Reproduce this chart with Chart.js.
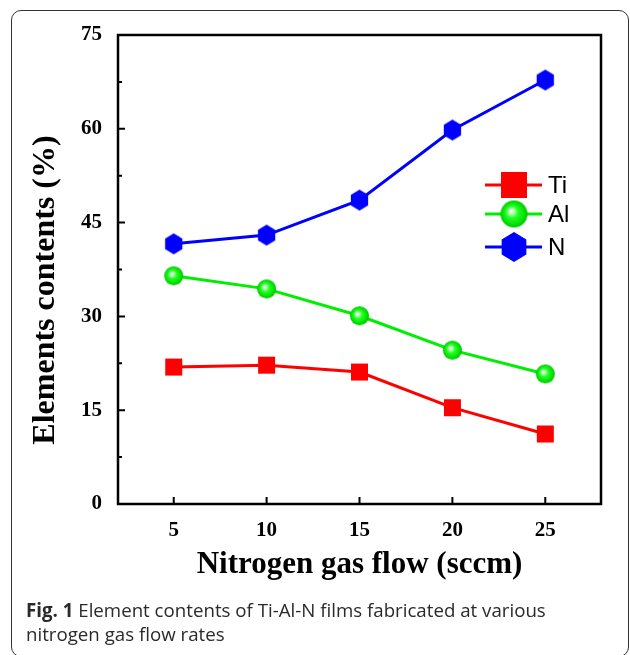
<!DOCTYPE html>
<html>
<head>
<meta charset="utf-8">
<script src="https://cdn.jsdelivr.net/npm/chart.js@4"></script>
<style>
  html, body { margin: 0; padding: 0; background: #fff; width: 630px; height: 655px; overflow: hidden; }
  #wrap { position: relative; width: 630px; height: 655px; overflow: hidden; }
  #chart { position: absolute; left: 0; top: 0; }
  #frame { position: absolute; left: 11px; top: 10px; width: 618px; height: 647px;
           border: 1.5px solid #333; border-radius: 10px; box-sizing: border-box; pointer-events: none; }
  #caption { position: absolute; left: 26px; top: 598px; font-family: "Open Sans", sans-serif;
             font-size: 18.7px; line-height: 24px; color: #2a2a2a; white-space: nowrap; }
  #caption b { font-weight: 700; }
</style>
</head>
<body>
<div id="wrap">
  <canvas id="chart" width="630" height="590"></canvas>
  <div id="frame"></div>
  <div id="caption"><b>Fig. 1</b> Element contents of Ti-Al-N films fabricated at various<br>nitrogen gas flow rates</div>
</div>
<script>
// valores
const flows = [5, 10, 15, 20, 25];
const tiValues = [21.9, 22.2, 21.1, 15.4, 11.2];
const alValues = [36.5, 34.4, 30.1, 24.6, 20.8];
const nValues = [41.6, 43.0, 48.6, 59.8, 67.8];
const seriesNames = ['Ti', 'Al', 'N'];
const xTickValues = [5, 10, 15, 20, 25];
const yTickValues = [0, 15, 30, 45, 60, 75];
const yMinorValues = [7.5, 22.5, 37.5, 52.5, 67.5];

const RED = '#ff0000';
const GREEN = '#00ee00';
const BLUE = '#0000ff';
const serif = '"Liberation Serif", "Times New Roman", serif';

// Marcadores dibujados en un canvas aparte
const makeMarker = (kind, size) => {
    const c = document.createElement('canvas');
    c.width = size + 2;
    c.height = size + 2;
    const ctx = c.getContext('2d');
    const m = (size + 2) / 2;
    const r = size / 2;
    if (kind === 'square') {
        ctx.fillStyle = RED;
        ctx.fillRect(m - r, m - r, size, size);
    } else if (kind === 'sphere') {
        const g = ctx.createRadialGradient(m - r * 0.25, m - r * 0.25, 0, m, m, r);
        g.addColorStop(0, '#ffffff');
        g.addColorStop(0.2, '#b8ffb8');
        g.addColorStop(0.45, '#22ff22');
        g.addColorStop(0.85, '#00e000');
        g.addColorStop(1, '#00b800');
        ctx.fillStyle = g;
        ctx.beginPath();
        ctx.arc(m, m, r, 0, Math.PI * 2);
        ctx.fill();
    } else {
        ctx.fillStyle = BLUE;
        ctx.beginPath();
        for (let i = 0; i < 6; i++) {
            const a = -Math.PI / 2 + i * Math.PI / 3;
            const px = m + r * Math.cos(a) * 0.95;
            const py = m + r * Math.sin(a);
            if (i === 0) ctx.moveTo(px, py); else ctx.lineTo(px, py);
        }
        ctx.closePath();
        ctx.fill();
    }
    return c;
};

const pointMarkers = [makeMarker('square', 17), makeMarker('sphere', 19), makeMarker('hex', 21)];
const legendMarkers = [makeMarker('square', 26), makeMarker('sphere', 27), makeMarker('hex', 30)];
const colors = [RED, GREEN, BLUE];
const allValues = [tiValues, alValues, nValues];

// Marco, ticks hacia adentro, titulo Y y leyenda
const decorPlugin = {
    id: 'decor',
    beforeDatasetsDraw(chart) {
        const { ctx, chartArea: a, scales } = chart;
        ctx.save();
        ctx.strokeStyle = '#000';
        ctx.lineWidth = 2.5;
        ctx.strokeRect(a.left, a.top, a.right - a.left, a.bottom - a.top);
        ctx.lineWidth = 2;
        ctx.beginPath();
        xTickValues.forEach(v => {
            const x = scales.x.getPixelForValue(v);
            ctx.moveTo(x, a.bottom);
            ctx.lineTo(x, a.bottom - 7);
        });
        yTickValues.forEach(v => {
            const y = scales.y.getPixelForValue(v);
            ctx.moveTo(a.left, y);
            ctx.lineTo(a.left + 7, y);
        });
        yMinorValues.forEach(v => {
            const y = scales.y.getPixelForValue(v);
            ctx.moveTo(a.left, y);
            ctx.lineTo(a.left + 4, y);
        });
        ctx.stroke();

        // titulo del eje Y
        ctx.translate(46, 290);
        ctx.rotate(-Math.PI / 2);
        ctx.fillStyle = '#000';
        ctx.font = `bold 32px ${serif}`;
        ctx.textAlign = 'center';
        ctx.textBaseline = 'middle';
        ctx.fillText('Elements contents (%)', 0, 0);
        ctx.restore();
    },
    afterDraw(chart) {
        const { ctx } = chart;
        const rows = [185, 214, 247];
        ctx.save();
        seriesNames.forEach((name, i) => {
            ctx.strokeStyle = colors[i];
            ctx.lineWidth = 3;
            ctx.beginPath();
            ctx.moveTo(485, rows[i]);
            ctx.lineTo(542, rows[i]);
            ctx.stroke();
            const img = legendMarkers[i];
            ctx.drawImage(img, 514 - img.width / 2, rows[i] - img.height / 2);
            ctx.fillStyle = '#000';
            ctx.font = '24px "Liberation Sans", Arial, sans-serif';
            ctx.textBaseline = 'middle';
            ctx.fillText(name, 548, rows[i] + 1);
        });
        ctx.restore();
    }
};

const makeDataset = (i) => ({
    label: seriesNames[i],
    data: flows.map((f, k) => ({ x: f, y: allValues[i][k] })),
    borderColor: colors[i],
    backgroundColor: colors[i],
    borderWidth: 3,
    pointStyle: pointMarkers[i],
    pointRadius: 10,
    tension: 0
});

const tickFont = { family: serif, size: 21, weight: 'bold' };

new Chart(document.getElementById('chart'), {
    type: 'line',
    data: { datasets: [0, 1, 2].map(makeDataset) },
    options: {
        responsive: false,
        animation: false,
        events: [],
        layout: { padding: { left: 0, top: 35, right: 29, bottom: 0 } },
        plugins: { legend: { display: false }, tooltip: { enabled: false } },
        scales: {
            x: {
                type: 'linear',
                min: 2,
                max: 28,
                grid: { display: false },
                border: { display: false },
                afterBuildTicks: (s) => { s.ticks = xTickValues.map(v => ({ value: v })); },
                afterFit: (s) => { s.height = 86; },
                ticks: { color: '#000', font: tickFont, padding: 6, maxRotation: 0 },
                title: { display: true, text: 'Nitrogen gas flow (sccm)', color: '#000',
                         font: { family: serif, size: 31, weight: 'bold' }, padding: { top: 0, bottom: 6 } }
            },
            y: {
                min: 0,
                max: 75,
                grid: { display: false },
                border: { display: false },
                afterBuildTicks: (s) => { s.ticks = yTickValues.map(v => ({ value: v })); },
                afterFit: (s) => { s.width = 118; },
                ticks: { color: '#000', font: tickFont, padding: 8 }
            }
        }
    },
    plugins: [decorPlugin]
});
</script>
</body>
</html>
